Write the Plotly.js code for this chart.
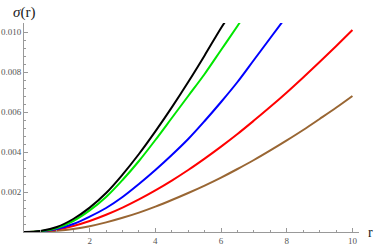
<!DOCTYPE html>
<html>
<head>
<meta charset="utf-8">
<script src="https://cdn.plot.ly/plotly-3.0.1.min.js"></script>
<style>html,body{margin:0;padding:0;background:#fff;}#chart{width:374px;height:246px;}</style>
</head>
<body>
<div id="chart"></div>
<script>
// Series
const rBlack = [0, 0.5, 1, 1.5, 2, 2.5, 3, 3.5, 4, 4.5, 5, 5.5, 6, 6.2];
const sBlack = [0, 0.00005, 0.00025, 0.00065, 0.00122, 0.00195, 0.00287, 0.0039, 0.00503, 0.00623, 0.0075, 0.00883, 0.0102, 0.0107];

const rGreen = [0, 0.5, 1, 1.5, 2, 2.5, 3, 3.5, 4, 4.5, 5, 5.5, 6, 6.5, 6.7];
const sGreen = [0, 0.00004, 0.0002, 0.00055, 0.00108, 0.00175, 0.0026, 0.00355, 0.0046, 0.0057, 0.0068, 0.0079, 0.0091, 0.0103, 0.0108];

const rBlue = [0, 0.5, 1, 1.5, 2, 2.5, 3, 3.5, 4, 4.5, 5, 5.5, 6, 6.5, 7, 7.5, 8];
const sBlue = [0, 0.00003, 0.00015, 0.0004, 0.00077, 0.0012, 0.00175, 0.0024, 0.0031, 0.00385, 0.00465, 0.00555, 0.0065, 0.0075, 0.0086, 0.0097, 0.0108];

const rRed = [0, 0.5, 1, 1.5, 2, 2.5, 3, 3.5, 4, 4.5, 5, 5.5, 6, 6.5, 7, 7.5, 8, 8.5, 9, 9.5, 10];
const sRed = [0, 0.00003, 0.00012, 0.0003, 0.00055, 0.00086, 0.00122, 0.00163, 0.00208, 0.00257, 0.0031, 0.00367, 0.00427, 0.0049, 0.00557, 0.00626, 0.00698, 0.00773, 0.0085, 0.00929, 0.0101];

const rBrown = [0, 0.5, 1, 1.5, 2, 2.5, 3, 3.5, 4, 4.5, 5, 5.5, 6, 6.5, 7, 7.5, 8, 8.5, 9, 9.5, 10];
const sBrown = [0, 0.00001, 0.00006, 0.00015, 0.00029, 0.00048, 0.00071, 0.00097, 0.00127, 0.0016, 0.00195, 0.00232, 0.00272, 0.00315, 0.0036, 0.00408, 0.00458, 0.0051, 0.00565, 0.00621, 0.0068];

const xTickVals = [2, 4, 6, 8, 10];
const xTickText = ["2", "4", "6", "8", "10"];
const yTickVals = [0.002, 0.004, 0.006, 0.008, 0.010];
const yTickText = ["0.002", "0.004", "0.006", "0.008", "0.010"];

const series = [
  {x: rBrown, y: sBrown, color: "rgb(153,102,51)"},
  {x: rRed, y: sRed, color: "rgb(255,0,0)"},
  {x: rBlue, y: sBlue, color: "rgb(0,0,255)"},
  {x: rGreen, y: sGreen, color: "rgb(0,230,0)"},
  {x: rBlack, y: sBlack, color: "rgb(0,0,0)"}
];

const traces = series.map(s => ({
  x: s.x, y: s.y, type: "scatter", mode: "lines",
  line: {color: s.color, width: 2, shape: "spline", smoothing: 1},
  hoverinfo: "skip"
}));

const axisColor = "#999999";
const tickFont = {family: "Liberation Serif, serif", size: 9, color: "#555555"};

const layout = {
  width: 374, height: 246,
  margin: {l: 24, r: 15, t: 23, b: 14, pad: 0},
  paper_bgcolor: "#ffffff", plot_bgcolor: "#ffffff",
  showlegend: false,
  xaxis: {
    range: [0, 10.2], showgrid: false, zeroline: false,
    showline: true, linecolor: axisColor, linewidth: 1,
    ticks: "inside", ticklen: 4, tickcolor: axisColor, tickwidth: 1,
    tickvals: xTickVals, ticktext: xTickText, tickfont: tickFont,
    minor: {dtick: 0.5, tick0: 0, ticks: "inside", ticklen: 2, tickcolor: axisColor, showgrid: false}
  },
  yaxis: {
    range: [0, 0.01045], showgrid: false, zeroline: false,
    showline: true, linecolor: axisColor, linewidth: 1,
    ticks: "inside", ticklen: 4, tickcolor: axisColor, tickwidth: 1,
    tickvals: yTickVals, ticktext: yTickText, tickfont: tickFont,
    minor: {dtick: 0.0004, tick0: 0, ticks: "inside", ticklen: 2, tickcolor: axisColor, showgrid: false}
  },
  annotations: [
    {text: "<i>σ</i>(r)", xref: "paper", yref: "paper", x: 0, y: 1.0, xanchor: "center", yanchor: "bottom",
     yshift: 0, showarrow: false, font: {family: "Liberation Serif, serif", size: 15, color: "#222222"}},
    {text: "r", xref: "paper", yref: "paper", x: 1.0, y: 0, xanchor: "left", yanchor: "middle",
     xshift: 7, showarrow: false, font: {family: "Liberation Serif, serif", size: 14, color: "#222222"}}
  ]
};

Plotly.newPlot("chart", traces, layout, {staticPlot: true, displayModeBar: false});
</script>
</body>
</html>
